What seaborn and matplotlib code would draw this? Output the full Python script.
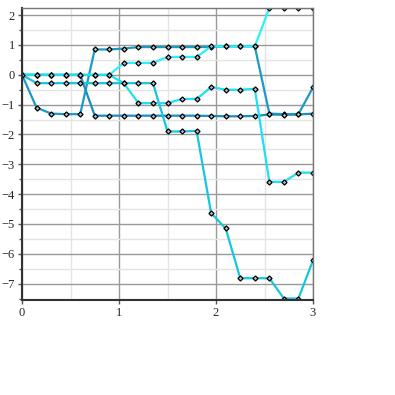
import pandas as pd
import numpy as np
import matplotlib
matplotlib.use("Agg")
import matplotlib.pyplot as plt
import seaborn as sns
from matplotlib.ticker import MultipleLocator

# x positions (steps of 0.15)
x_vals = [0, 0.15, 0.3, 0.45, 0.6, 0.75, 0.9, 1.05, 1.2, 1.35, 1.5,
          1.65, 1.8, 1.95, 2.1, 2.25, 2.4, 2.55, 2.7, 2.85, 3.0]

line_a = [0, -1.1, -1.3, -1.32, -1.32, 0.85, 0.85, 0.88, 0.93, 0.93, 0.93,
          0.93, 0.93, 0.93, 0.95, 0.95, 0.95, -1.3, -1.32, -1.32, -0.42]
line_b = [0, 0, 0, 0, 0, -1.37, -1.37, -1.37, -1.37, -1.37, -1.37,
          -1.37, -1.37, -1.38, -1.39, -1.39, -1.38, -1.33, -1.34, -1.33, -1.3]
line_c = [0, 0, 0, 0, 0, 0, 0, 0.4, 0.4, 0.4, 0.6,
          0.6, 0.6, 0.95, 0.95, 0.95, 0.95, 2.24, 2.24, 2.24, 2.24]
line_e = [0, -0.28, -0.28, -0.28, -0.28, -0.28, -0.28, -0.28, -0.28, -0.28, -1.9,
          -1.9, -1.88, -4.64, -5.15, -6.82, -6.82, -6.82, -7.5, -7.5, -6.22]
line_f = [0, 0, 0, 0, 0, 0, 0, -0.28, -0.95, -0.95, -0.95,
          -0.81, -0.81, -0.41, -0.5, -0.5, -0.47, -3.59, -3.59, -3.28, -3.28]

names = ["a", "b", "c", "e", "f"]
colors = ["#1b9ac6", "#1a8fbf", "#2ef0fa", "#16c6e0", "#1fdff2"]

df = pd.concat([pd.DataFrame({"x": x_vals, "y": v, "series": n})
                for n, v in zip(names, [line_a, line_b, line_c, line_e, line_f])])

sns.set_style("white")
plt.rcParams["font.family"] = ["Liberation Serif", "DejaVu Serif"]

fig = plt.figure(figsize=(3.95, 3.95), dpi=100)
ax = fig.add_axes([22 / 395, 1 - 300 / 395, 291 / 395, 292 / 395])

sns.lineplot(data=df, x="x", y="y", hue="series", palette=colors, ax=ax,
             legend=False, sort=False, linewidth=1.6, marker="D", markersize=2.6,
             markerfacecolor="#bbbbbb", markeredgecolor="black", markeredgewidth=0.9)

ax.set_xlim(0, 3)
ax.set_ylim(df["y"].min() - 0.05, df["y"].max())
ax.xaxis.set_major_locator(MultipleLocator(1))
ax.xaxis.set_minor_locator(MultipleLocator(0.5))
ax.yaxis.set_major_locator(MultipleLocator(1))
ax.yaxis.set_minor_locator(MultipleLocator(0.5))
ax.grid(which="major", color="#999999", linewidth=1)
ax.grid(which="minor", color="#e4e4e4", linewidth=1)
ax.set_axisbelow(True)
ax.set_xlabel("")
ax.set_ylabel("")
ax.tick_params(which="both", direction="out", length=3, width=1, color="#555555",
               labelsize=9, pad=2, left=True, bottom=True)
ax.tick_params(axis="y", which="minor", length=2)
ax.tick_params(axis="x", which="minor", length=0)
for s in ["left", "bottom"]:
    ax.spines[s].set_color("#333333")
    ax.spines[s].set_linewidth(1.5)
for s in ["right", "top"]:
    ax.spines[s].set_color("#777777")
    ax.spines[s].set_linewidth(1)

fig.savefig("out.png", dpi=100)
